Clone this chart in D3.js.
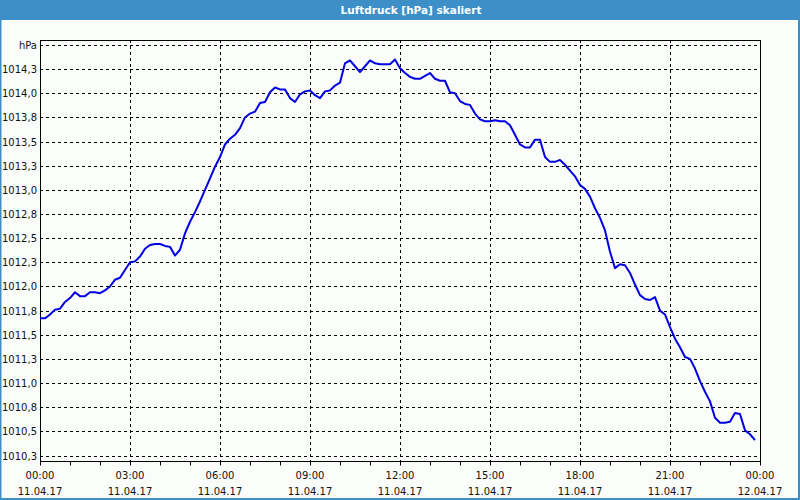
<!DOCTYPE html>
<html>
<head>
<meta charset="utf-8">
<script src="https://cdn.jsdelivr.net/npm/d3@7"></script>
<style>
html,body{margin:0;padding:0;background:#fbfdfb;}
svg{display:block;}
text{font-family:"DejaVu Sans",Verdana,sans-serif;}
</style>
</head>
<body>
<svg id="chart" width="800" height="500"></svg>
<script>
// Data: pressure every 10 minutes from 11.04.17 00:00 (minutes since start)
const minutes = d3.range(0, 1440, 10);
const pressure = [
1011.67,1011.67,1011.71,1011.76,1011.77,1011.84,1011.88,1011.94,1011.90,1011.90,
1011.94,1011.94,1011.93,1011.96,1012.00,1012.07,1012.09,1012.17,1012.25,1012.26,
1012.31,1012.39,1012.43,1012.44,1012.44,1012.42,1012.41,1012.32,1012.38,1012.55,
1012.67,1012.77,1012.88,1013.00,1013.12,1013.24,1013.34,1013.47,1013.53,1013.57,
1013.64,1013.75,1013.79,1013.81,1013.90,1013.91,1014.01,1014.06,1014.04,1014.04,
1013.95,1013.91,1013.99,1014.02,1014.03,1013.98,1013.95,1014.02,1014.03,1014.08,
1014.11,1014.31,1014.34,1014.28,1014.22,1014.28,1014.34,1014.31,1014.30,1014.30,
1014.30,1014.35,1014.26,1014.21,1014.17,1014.15,1014.15,1014.18,1014.21,1014.15,
1014.13,1014.13,1014.01,1014.00,1013.92,1013.89,1013.88,1013.79,1013.73,1013.71,
1013.71,1013.72,1013.71,1013.71,1013.67,1013.57,1013.47,1013.44,1013.44,1013.52,
1013.52,1013.34,1013.29,1013.29,1013.31,1013.26,1013.20,1013.14,1013.05,1013.01,
1012.93,1012.81,1012.71,1012.58,1012.36,1012.19,1012.23,1012.22,1012.14,1012.02,
1011.91,1011.87,1011.86,1011.89,1011.75,1011.71,1011.58,1011.46,1011.37,1011.27,
1011.25,1011.15,1011.02,1010.91,1010.81,1010.64,1010.59,1010.59,1010.60,1010.69,
1010.68,1010.51,1010.47,1010.41
];
const yTickValues = [1010.25,1010.5,1010.75,1011,1011.25,1011.5,1011.75,1012,1012.25,1012.5,1012.75,1013,1013.25,1013.5,1013.75,1014,1014.25,1014.5];
const yTickLabels = ["1010,3","1010,5","1010,8","1011,0","1011,3","1011,5","1011,8","1012,0","1012,3","1012,5","1012,8","1013,0","1013,3","1013,5","1013,8","1014,0","1014,3","hPa"];
const xTickHours = [0,3,6,9,12,15,18,21,24];
const xTimeLabels = ["00:00","03:00","06:00","09:00","12:00","15:00","18:00","21:00","00:00"];
const xDateLabels = ["11.04.17","11.04.17","11.04.17","11.04.17","11.04.17","11.04.17","11.04.17","11.04.17","12.04.17"];
const title = "Luftdruck [hPa] skaliert";

const svg = d3.select("#chart");
const W = 800, H = 500;
const plot = {left:40, right:760, top:40, bottom:461};

// background & frame
svg.append("rect").attr("x",0).attr("y",0).attr("width",W).attr("height",H).attr("fill","#fbfdfb");
svg.append("rect").attr("x",0).attr("y",0).attr("width",W).attr("height",20).attr("fill","#3d90c7");
svg.append("rect").attr("x",0.5).attr("y",0.5).attr("width",W-1.5).attr("height",H-1.5)
  .attr("fill","none").attr("stroke","#3d90c7").attr("stroke-width",2);
svg.append("text").attr("x",411).attr("y",14).attr("text-anchor","middle")
  .attr("fill","#ffffff").attr("font-size","10.5px").attr("font-weight","bold").text(title);

const x = d3.scaleLinear().domain([0,1440]).range([plot.left, plot.right]);
const y = d3.scaleLinear().domain([1010.25,1014.5]).range([455.5,45]);

// horizontal grid
svg.append("g").selectAll("line").data(yTickValues).join("line")
  .attr("x1",plot.left).attr("x2",plot.right)
  .attr("y1",d=>Math.round(y(d))+0.5).attr("y2",d=>Math.round(y(d))+0.5)
  .attr("stroke","#000").attr("stroke-width",1).attr("stroke-dasharray","3,3");
// vertical grid
svg.append("g").selectAll("line").data(xTickHours.slice(1,-1)).join("line")
  .attr("x1",d=>Math.round(x(d*60))+0.5).attr("x2",d=>Math.round(x(d*60))+0.5)
  .attr("y1",plot.top).attr("y2",plot.bottom)
  .attr("stroke","#000").attr("stroke-width",1).attr("stroke-dasharray","3,3");

// x axis with hourly ticks
const xAxis = d3.axisBottom(x).tickValues(d3.range(0,1441,60)).tickSize(4).tickFormat("");
const gx = svg.append("g").attr("transform",`translate(0,${plot.bottom+0.5})`).call(xAxis);
gx.select(".domain").remove();
gx.selectAll(".tick line").attr("stroke","#000");

// y labels
svg.append("g").selectAll("text").data(yTickValues).join("text")
  .attr("x",37).attr("y",d=>Math.round(y(d))+4).attr("text-anchor","end")
  .attr("font-size","10px").attr("fill","#111")
  .text((d,i)=>yTickLabels[i]);

// x labels
const xl = svg.append("g").selectAll("g").data(xTickHours).join("g")
  .attr("transform",d=>`translate(${x(d*60)},0)`);
xl.append("text").attr("y",479).attr("text-anchor","middle").attr("font-size","10px").attr("fill","#111")
  .text((d,i)=>xTimeLabels[i]);
xl.append("text").attr("y",495).attr("text-anchor","middle").attr("font-size","10px").attr("fill","#111")
  .text((d,i)=>xDateLabels[i]);

// plot frame
svg.append("rect").attr("x",plot.left+0.5).attr("y",plot.top+0.5)
  .attr("width",plot.right-plot.left).attr("height",plot.bottom-plot.top)
  .attr("fill","none").attr("stroke","#000").attr("stroke-width",1);

// line
const line = d3.line().x((d,i)=>x(minutes[i])).y(d=>y(d));
svg.append("path").datum(pressure).attr("d",line)
  .attr("fill","none").attr("stroke","#0000e0").attr("stroke-width",2).attr("stroke-linejoin","round");
</script>
</body>
</html>
